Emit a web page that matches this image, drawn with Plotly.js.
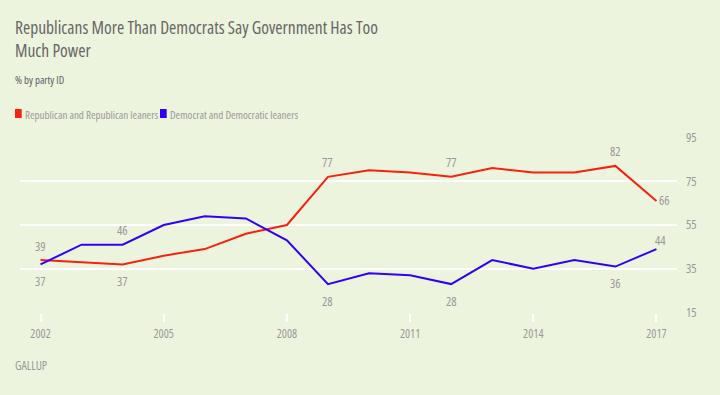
<!DOCTYPE html>
<html>
<head>
<meta charset="utf-8">
<script src="https://cdn.plot.ly/plotly-3.0.1.min.js"></script>
<style>
  html, body { margin: 0; padding: 0; background: #EDF4DE; }
  #chart { width: 720px; height: 395px; }
  svg text { font-stretch: 75% !important; }
</style>
</head>
<body>
<div id="chart"></div>
<script>
// ---- data ----
var years = [2002, 2003, 2004, 2005, 2006, 2007, 2008, 2009, 2010, 2011, 2012, 2013, 2014, 2015, 2016, 2017];
var republican = [39, 38, 37, 41, 44, 51, 55, 77, 80, 79, 77, 81, 79, 79, 82, 66];
var democrat   = [37, 46, 46, 55, 59, 58, 48, 28, 33, 32, 28, 39, 35, 39, 36, 44];
var seriesNames = ['Republican and Republican leaners', 'Democrat and Democratic leaners'];
var xTicks = [2002, 2005, 2008, 2011, 2014, 2017];
var yTicks = [15, 35, 55, 75, 95];
// indices of points that carry a value label, and where the label sits
var repLabelIdx = [0, 2, 7, 10, 14, 15];
var repLabelPos = ['above', 'below', 'above', 'above', 'above', 'right'];
var demLabelIdx = [0, 2, 7, 10, 14, 15];
var demLabelPos = ['below', 'above', 'below', 'below', 'below', 'aboveright'];

var RED = '#F8200E';
var BLUE = '#3000FA';
var GRAY = '#999999';
var FONT = 'Open Sans, sans-serif';

// plot area geometry (pixels)
var L = 20, R = 43, T = 137, B = 82, W = 720, H = 395;
var PW = W - L - R, PH = H - T - B;
function px(x) { return (x - L) / PW; }
function py(y) { return (H - B - y) / PH; }

var traces = [
  { x: years, y: republican, type: 'scatter', mode: 'lines', name: seriesNames[0],
    line: { color: RED, width: 2 }, hoverinfo: 'x+y' },
  { x: years, y: democrat, type: 'scatter', mode: 'lines', name: seriesNames[1],
    line: { color: BLUE, width: 2 }, hoverinfo: 'x+y' }
];

function makeLabel(xv, yv, pos) {
  var a = { x: xv, y: yv, xref: 'x', yref: 'y', text: String(yv), showarrow: false,
            font: { family: FONT, size: 12.5, color: GRAY }, xanchor: 'center', yanchor: 'middle' };
  if (pos === 'above') { a.yshift = 14; }
  else if (pos === 'below') { a.yshift = -17; }
  else if (pos === 'right') { a.xanchor = 'left'; a.xshift = 1; a.yshift = 0; }
  else if (pos === 'aboveright') { a.xshift = 4; a.yshift = 9; }
  return a;
}

var annotations = [];
repLabelIdx.forEach(function (i, k) { annotations.push(makeLabel(years[i], republican[i], repLabelPos[k])); });
demLabelIdx.forEach(function (i, k) { annotations.push(makeLabel(years[i], democrat[i], demLabelPos[k])); });

// subtitle
annotations.push({ xref: 'paper', yref: 'paper', x: px(13), y: py(80), xanchor: 'left', yanchor: 'middle',
  text: '% by party ID', showarrow: false, font: { family: FONT, size: 10.8, color: '#5e5e5e' } });
// legend texts
annotations.push({ xref: 'paper', yref: 'paper', x: px(23), y: py(114), xanchor: 'left', yanchor: 'middle',
  text: seriesNames[0], showarrow: false, font: { family: FONT, size: 11, color: GRAY } });
annotations.push({ xref: 'paper', yref: 'paper', x: px(168), y: py(114), xanchor: 'left', yanchor: 'middle',
  text: seriesNames[1], showarrow: false, font: { family: FONT, size: 11, color: GRAY } });
// source
annotations.push({ xref: 'paper', yref: 'paper', x: px(13), y: py(365), xanchor: 'left', yanchor: 'middle',
  text: 'GALLUP', showarrow: false, font: { family: FONT, size: 12, color: GRAY } });

var shapes = [
  { type: 'rect', xref: 'paper', yref: 'paper', x0: px(15), x1: px(21.7), y0: py(118), y1: py(109),
    fillcolor: RED, line: { width: 0 } },
  { type: 'rect', xref: 'paper', yref: 'paper', x0: px(160), x1: px(166.7), y0: py(118), y1: py(109),
    fillcolor: BLUE, line: { width: 0 } }
];

var layout = {
  width: W, height: H,
  paper_bgcolor: '#EDF4DE', plot_bgcolor: '#EDF4DE',
  margin: { l: L, r: R, t: T, b: B, pad: 0 },
  showlegend: false,
  title: {
    text: 'Republicans More Than Democrats Say Government Has Too<br>Much Power',
    font: { family: FONT, size: 17.5, color: '#666666' },
    xref: 'container', yref: 'container', x: 15 / W, xanchor: 'left', y: 1 - 34 / H, yanchor: 'top'
  },
  xaxis: {
    range: [2001.5, 2017.5], tickvals: xTicks, ticktext: xTicks.map(String),
    showgrid: false, zeroline: false, showline: false,
    ticks: 'outside', ticklen: 8, tickwidth: 2, tickcolor: '#ffffff', ticklabelstandoff: 2,
    tickfont: { family: FONT, size: 12, color: GRAY }, fixedrange: true
  },
  yaxis: {
    range: [14.8, 95.2], tickvals: yTicks, ticktext: yTicks.map(String), side: 'right',
    showgrid: true, gridcolor: '#ffffff', gridwidth: 2, zeroline: false, showline: false,
    ticks: '', ticklabelstandoff: 8,
    tickfont: { family: FONT, size: 12.5, color: GRAY }, fixedrange: true
  },
  annotations: annotations,
  shapes: shapes,
  font: { family: FONT }
};

Plotly.newPlot('chart', traces, layout, { displayModeBar: false, staticPlot: true });
</script>
</body>
</html>
